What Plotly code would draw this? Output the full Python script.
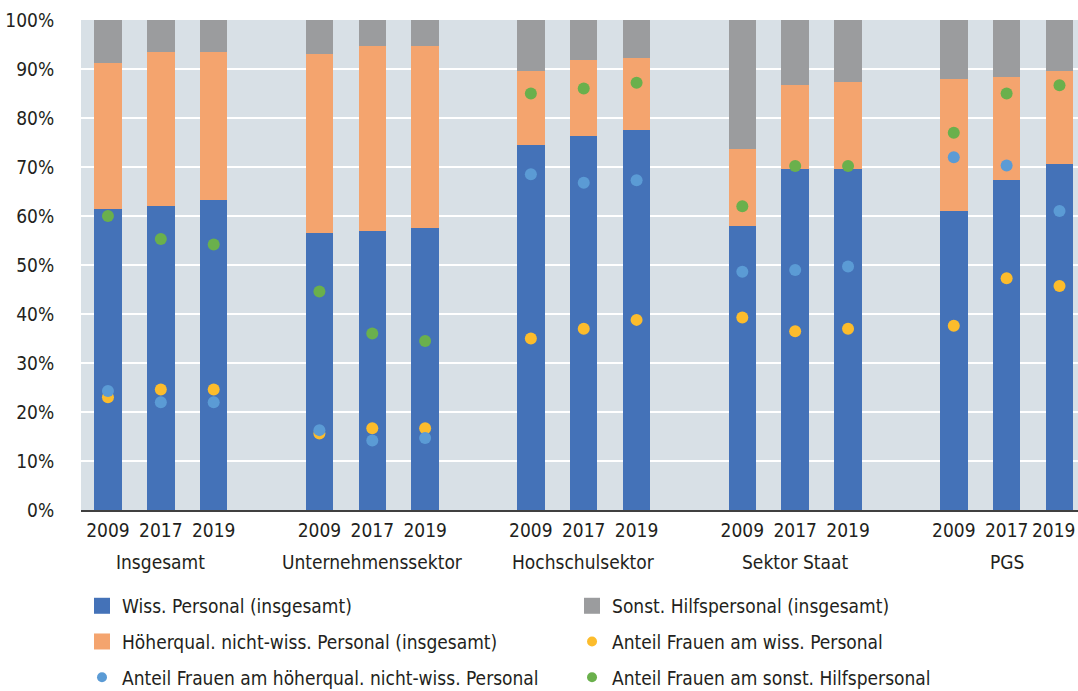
import plotly.graph_objects as go

# Kategorien
groups = ["Insgesamt", "Unternehmenssektor", "Hochschulsektor", "Sektor Staat", "PGS"]
years = ["2009", "2017", "2019"]

# Anteile in % (Balken, gestapelt auf 100 %)
wiss = [61.5, 62.0, 63.2, 56.5, 57.0, 57.5, 74.5, 76.3, 77.5, 58.0, 69.5, 69.5, 61.0, 67.3, 70.7]
hoeher = [29.8, 31.5, 30.3, 36.5, 37.7, 37.2, 15.0, 15.5, 14.8, 15.7, 17.2, 17.8, 26.9, 21.1, 18.9]
sonst = [8.7, 6.5, 6.5, 7.0, 5.3, 5.3, 10.5, 8.2, 7.7, 26.3, 13.3, 12.7, 12.1, 11.6, 10.4]

# Frauenanteile in %
frauen_wiss = [23.0, 24.6, 24.6, 15.6, 16.7, 16.7, 35.0, 37.0, 38.8, 39.3, 36.5, 37.0, 37.6, 47.3, 45.7]
frauen_hoeher = [24.3, 22.0, 22.0, 16.3, 14.2, 14.7, 68.5, 66.8, 67.3, 48.6, 49.0, 49.7, 72.0, 70.3, 61.0]
frauen_sonst = [60.0, 55.3, 54.2, 44.6, 36.0, 34.5, 85.0, 86.0, 87.2, 62.0, 70.2, 70.2, 77.0, 85.0, 86.7]

# x-Positionen: 3 Balken je Gruppe, eine Lücke dazwischen
xpos = [g * 4 + i for g in range(len(groups)) for i in range(len(years))]
xlabels = [y for _ in groups for y in years]
yticks = list(range(0, 101, 10))

font = "DejaVu Sans Condensed, Liberation Sans Narrow, Arial Narrow, sans-serif"
c_blue, c_orange, c_grey = "#4472b8", "#f4a46e", "#9b9c9e"
c_yellow, c_lblue, c_green = "#fcbc2c", "#5b9bd5", "#6ab04c"

fig = go.Figure()

for vals, col in [(wiss, c_blue), (hoeher, c_orange), (sonst, c_grey)]:
    fig.add_trace(go.Bar(x=xpos, y=vals, marker=dict(color=col, line_width=0),
                         width=0.52, showlegend=False, hoverinfo="skip"))

for vals, col in [(frauen_wiss, c_yellow), (frauen_hoeher, c_lblue), (frauen_sonst, c_green)]:
    fig.add_trace(go.Scatter(x=xpos, y=vals, mode="markers",
                             marker=dict(color=col, size=12), showlegend=False))

# Legendeneinträge: zwei Spalten
legend_items = [
    ("Wiss. Personal (insgesamt)", c_blue, "square", 20, "legend"),
    ("Höherqual. nicht-wiss. Personal (insgesamt)", c_orange, "square", 20, "legend"),
    ("Anteil Frauen am höherqual. nicht-wiss. Personal", c_lblue, "circle", 10, "legend"),
    ("Sonst. Hilfspersonal (insgesamt)", c_grey, "square", 20, "legend2"),
    ("Anteil Frauen am wiss. Personal", c_yellow, "circle", 10, "legend2"),
    ("Anteil Frauen am sonst. Hilfspersonal", c_green, "circle", 10, "legend2"),
]
for i, (name, col, sym, sz, leg) in enumerate(legend_items):
    fig.add_trace(go.Scatter(x=[None], y=[None], mode="markers", name=name,
                             marker=dict(color=col, symbol=sym, size=sz),
                             legend=leg, legendgroup=f"g{i}", legendrank=i + 1))

for g, name in enumerate(groups):
    fig.add_annotation(x=g * 4 + 1, y=0, xref="x", yref="paper", yshift=-52,
                       text=name, showarrow=False, yanchor="middle",
                       font=dict(size=19, color="#231f20"))

# letzte Jahreszahl am rechten Rand, damit sie nicht abgeschnitten wird
fig.add_annotation(x=xpos[-1], y=0, xref="x", yref="paper", yshift=-20, xshift=18,
                   text=xlabels[-1], showarrow=False, xanchor="right", yanchor="middle",
                   font=dict(size=19, color="#231f20"))

leg_common = dict(orientation="v", yanchor="top", xanchor="left", tracegroupgap=8,
                  font=dict(size=19), itemsizing="trace", bgcolor="rgba(0,0,0,0)")
fig.update_layout(
    width=1078, height=691,
    barmode="stack",
    bargap=0,
    plot_bgcolor="#d8e0e6",
    paper_bgcolor="white",
    margin=dict(l=81, r=0, t=20, b=181, autoexpand=False),
    font=dict(family=font, size=19, color="#231f20"),
    legend=dict(x=0.001, y=-0.157, **leg_common),
    legend2=dict(x=0.4925, y=-0.157, **leg_common),
)
fig.update_xaxes(range=[-0.51, 18.35], tickmode="array", tickvals=xpos[:-1], ticktext=xlabels[:-1],
                 showgrid=False, showline=True, linecolor="#404040", linewidth=2,
                 ticks="outside", ticklen=2, tickcolor="rgba(0,0,0,0)",
                 tickfont=dict(size=19), zeroline=False)
fig.update_yaxes(range=[0, 100], tickmode="array", tickvals=yticks,
                 ticktext=[f"{v}%" for v in yticks],
                 ticks="outside", ticklen=22, tickcolor="rgba(0,0,0,0)",
                 gridcolor="white", gridwidth=2, zeroline=False, showline=False,
                 tickfont=dict(size=19))

# Seitenrand entfernen, damit die Grafik genau ins Fenster passt
fig.write_html("out.html", config={"displayModeBar": False},
               post_script="document.body.style.margin='0px';")
